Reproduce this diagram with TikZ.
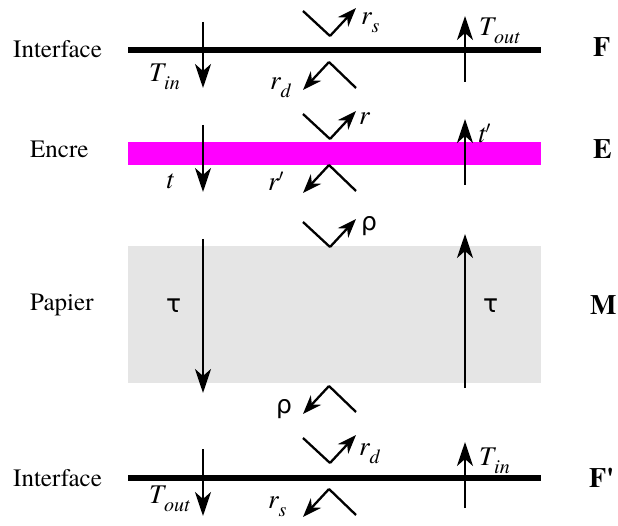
\documentclass[tikz,border=0pt]{standalone}
\usepackage{fontspec}
\setmainfont{texgyretermes}[Extension=.otf, UprightFont=*-regular, BoldFont=*-bold, ItalicFont=*-italic, BoldItalicFont=*-bolditalic]
\newfontfamily\greekfont{DejaVu Sans}
\usetikzlibrary{arrows.meta}
\definecolor{inkmag}{RGB}{255,0,255}
\newcommand{\lowidx}[1]{\raisebox{-8pt}{\fontsize{20}{20}\selectfont\textit{#1}}}

\begin{document}
\begin{tikzpicture}[x=1pt, y=-1pt,
	every node/.style={inner sep=0pt, anchor=base west},
	lay/.style={font=\fontsize{25}{25}\selectfont},
	sym/.style={font=\fontsize{27}{27}\selectfont\itshape},
	greek/.style={font=\greekfont\fontsize{25}{25}\selectfont},
	tag/.style={font=\fontsize{28}{28}\selectfont\bfseries},
	ray/.style={-{Stealth[length=24pt, width=16pt, inset=7pt]}, line width=2.6pt},
	bounce/.style={line width=2.3pt, line join=miter},
	bounceray/.style={-{Stealth[length=19pt, width=14pt, inset=6pt]}, line width=2.3pt}]
	\useasboundingbox (0,0) rectangle (618,526);
	% layers
	\fill[black!10] (128,246) rectangle (541,383);
	\fill[inkmag] (128,142) rectangle (541,165);
	\draw[line width=6pt] (128,50) -- (541,50);
	\draw[line width=6pt] (128,478) -- (541,478);
	% layer names
	\node[lay] (ifTop) at (13,58) {Interface};
	\node[lay] (encre) at (30,158) {Encre};
	\node[lay] (papier) at (30,311) {Papier};
	\node[lay] (ifBot) at (13,486) {Interface};
	\node[tag] (tagF) at (593,57) {F};
	\node[tag] (tagE) at (593,159) {E};
	\node[tag] (tagM) at (590,315) {M};
	\node[tag] (tagFb) at (589,487) {F\textquotesingle};
	% transmitted fluxes
	\coordinate (inF1) at (203,22); \coordinate (inF2) at (203,88);
	\coordinate (outF1) at (465,82); \coordinate (outF2) at (465,16);
	\coordinate (tE1) at (203,125); \coordinate (tE2) at (203,192);
	\coordinate (tE3) at (465,185); \coordinate (tE4) at (465,119);
	\coordinate (tauM1) at (203,239); \coordinate (tauM2) at (203,393);
	\coordinate (tauM3) at (465,388); \coordinate (tauM4) at (465,234);
	\coordinate (outB1) at (203,449); \coordinate (outB2) at (203,516);
	\coordinate (inB1) at (465,508); \coordinate (inB2) at (465,442);
	\draw[ray] (inF1) -- (inF2);
	\draw[ray] (outF1) -- (outF2);
	\draw[ray] (tE1) -- (tE2);
	\draw[ray] (tE3) -- (tE4);
	\draw[ray] (tauM1) -- (tauM2);
	\draw[ray] (tauM3) -- (tauM4);
	\draw[ray] (outB1) -- (outB2);
	\draw[ray] (inB1) -- (inB2);
	\node[sym] (tinF) at (149,82) {T\lowidx{in}};
	\node[sym] (toutF) at (479,36) {T\lowidx{out}};
	\node[sym] (tE) at (166,189) {t};
	\node[sym] (tpE) at (478,143) {t$^\prime$};
	\node[greek] (tauL) at (166,313) {τ};
	\node[greek] (tauR) at (483,313) {τ};
	\node[sym] (toutB) at (149,503) {T\lowidx{out}};
	\node[sym] (tinB) at (479,465) {T\lowidx{in}};
	% reflected fluxes
	\coordinate (rsA) at (303,11); \coordinate (rsB) at (330,36); \coordinate (rsC) at (356,8);
	\coordinate (rdA) at (356,88); \coordinate (rdB) at (329,62); \coordinate (rdC) at (303,90);
	\coordinate (rA) at (303,114); \coordinate (rB) at (330,139); \coordinate (rC) at (356,111);
	\coordinate (rpA) at (356,191); \coordinate (rpB) at (329,165); \coordinate (rpC) at (303,193);
	\coordinate (rhoA) at (303,222); \coordinate (rhoB) at (330,247); \coordinate (rhoC) at (356,219);
	\coordinate (rhoD) at (356,412); \coordinate (rhoE) at (329,386); \coordinate (rhoF) at (303,414);
	\coordinate (rdbA) at (303,438); \coordinate (rdbB) at (330,463); \coordinate (rdbC) at (356,435);
	\coordinate (rsbA) at (356,515); \coordinate (rsbB) at (329,489); \coordinate (rsbC) at (303,517);
	\draw[bounce] (rsA) -- (rsB); \draw[bounceray] (rsB) -- (rsC);
	\draw[bounce] (rdA) -- (rdB); \draw[bounceray] (rdB) -- (rdC);
	\draw[bounce] (rA) -- (rB); \draw[bounceray] (rB) -- (rC);
	\draw[bounce] (rpA) -- (rpB); \draw[bounceray] (rpB) -- (rpC);
	\draw[bounce] (rhoA) -- (rhoB); \draw[bounceray] (rhoB) -- (rhoC);
	\draw[bounce] (rhoD) -- (rhoE); \draw[bounceray] (rhoE) -- (rhoF);
	\draw[bounce] (rdbA) -- (rdbB); \draw[bounceray] (rdbB) -- (rdbC);
	\draw[bounce] (rsbA) -- (rsbB); \draw[bounceray] (rsbB) -- (rsbC);
	\node[sym] (rsF) at (361,25) {r\lowidx{s}};
	\node[sym] (rdF) at (270,90) {r\lowidx{d}};
	\node[sym] (rE) at (359,125) {r};
	\node[sym] (rpE) at (268,191) {r$^\prime$};
	\node[greek] (rhoT) at (361,231) {ρ};
	\node[greek] (rhoLow) at (276,413) {ρ};
	\node[sym] (rdBot) at (359,455) {r\lowidx{d}};
	\node[sym] (rsBot) at (268,508) {r\lowidx{s}};
\end{tikzpicture}
\end{document}
